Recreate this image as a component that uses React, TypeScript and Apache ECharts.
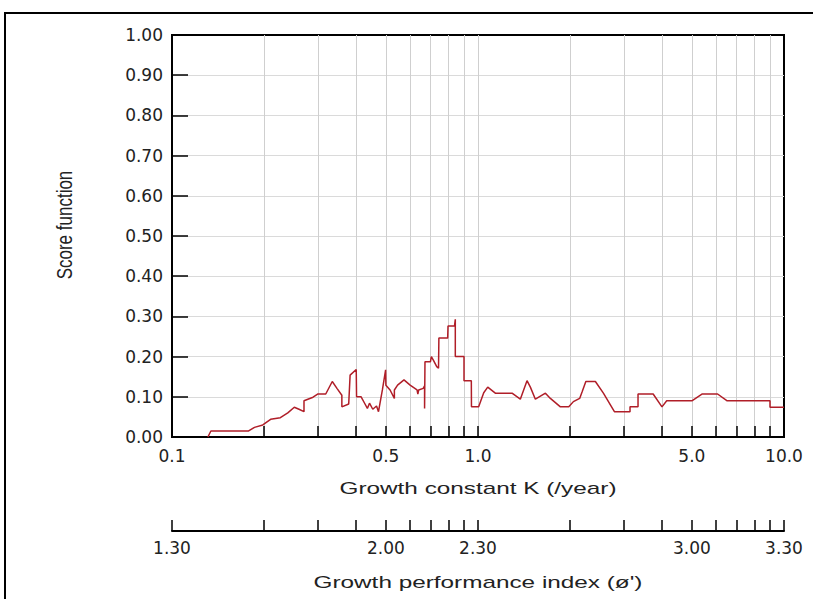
import React, { useEffect, useRef } from "react";
import * as echarts from "echarts";

// Growth constant K (/year) at each vertex of the score curve
const kValues = [
  0.131, 0.134, 0.178, 0.186, 0.198, 0.21, 0.226, 0.239, 0.251, 0.26,
  0.27, 0.27, 0.289, 0.3, 0.318, 0.334, 0.346, 0.359, 0.359, 0.378,
  0.382, 0.4, 0.401, 0.415, 0.426, 0.435, 0.442, 0.453, 0.466, 0.473,
  0.487, 0.499, 0.5, 0.516, 0.533, 0.533, 0.546, 0.573, 0.6, 0.632,
  0.636, 0.64, 0.662, 0.669, 0.669, 0.671, 0.699, 0.704, 0.716, 0.733,
  0.743, 0.745, 0.796, 0.798, 0.838, 0.843, 0.843, 0.9, 0.9, 0.951,
  0.952, 1.005, 1.044, 1.076, 1.139, 1.292, 1.375, 1.446, 1.483, 1.54,
  1.661, 1.724, 1.859, 1.98, 2.05, 2.149, 2.191, 2.251, 2.419, 2.569,
  2.791, 3.139, 3.139, 3.334, 3.334, 3.736, 3.992, 4.137, 5.0, 5.408,
  6.067, 6.52, 9.0, 9.0, 10.0,
];
// Score function values
const scores = [
  0, 0.015, 0.015, 0.024, 0.03, 0.044, 0.048, 0.06, 0.074, 0.069,
  0.063, 0.09, 0.099, 0.107, 0.107, 0.138, 0.121, 0.104, 0.075, 0.082,
  0.154, 0.168, 0.1, 0.1, 0.084, 0.071, 0.084, 0.069, 0.077, 0.063,
  0.117, 0.167, 0.129, 0.117, 0.096, 0.117, 0.129, 0.142, 0.129, 0.117,
  0.107, 0.117, 0.121, 0.127, 0.071, 0.187, 0.187, 0.2, 0.19, 0.175,
  0.171, 0.246, 0.246, 0.276, 0.276, 0.293, 0.2, 0.2, 0.14, 0.14,
  0.075, 0.075, 0.11, 0.124, 0.109, 0.109, 0.094, 0.14, 0.124, 0.094,
  0.109, 0.096, 0.075, 0.075, 0.088, 0.096, 0.113, 0.138, 0.138, 0.109,
  0.063, 0.063, 0.075, 0.075, 0.107, 0.107, 0.075, 0.09, 0.09, 0.107,
  0.107, 0.09, 0.09, 0.074, 0.074,
];

const kGridValues = [0.2, 0.3, 0.4, 0.5, 0.6, 0.7, 0.8, 0.9, 1, 2, 3, 4, 5, 6, 7, 8, 9];
const kAllTicks = [0.1, 0.2, 0.3, 0.4, 0.5, 0.6, 0.7, 0.8, 0.9, 1, 2, 3, 4, 5, 6, 7, 8, 9, 10];
const kLabelValues = [0.1, 0.5, 1, 5, 10];
const kLabels = ["0.1", "0.5", "1.0", "5.0", "10.0"];
const phiLabels = ["1.30", "2.00", "2.30", "3.00", "3.30"];
const scoreTickValues = [0.1, 0.2, 0.3, 0.4, 0.5, 0.6, 0.7, 0.8, 0.9];
const scoreLabelValues = [0, 0.1, 0.2, 0.3, 0.4, 0.5, 0.6, 0.7, 0.8, 0.9, 1];

const lookup = (v: number, names: string[]) => {
  const i = kLabelValues.findIndex((x) => Math.abs(x - v) / x < 1e-6);
  return i >= 0 ? names[i] : "";
};

export default function App() {
  const ref = useRef<HTMLDivElement>(null);
  useEffect(() => {
    if (!ref.current) return;
    const chart = echarts.init(ref.current, undefined, { renderer: "svg" });
    const labelFont = { color: "#222", fontFamily: "DejaVu Sans", fontSize: 17 };
    const tickStyle = { color: "#000", width: 1.5 };
    chart.setOption({
      animation: false,
      backgroundColor: "#fff",
      grid: [
        { left: 172, top: 35, width: 612, height: 402, show: true, borderColor: "#000", borderWidth: 2, backgroundColor: "transparent" },
        { left: 172, top: 520, width: 612, height: 11, show: false },
      ],
      xAxis: [
        {
          type: "log",
          logBase: 10,
          gridIndex: 0,
          min: 0.1,
          max: 10,
          axisLine: { show: true, lineStyle: { color: "#000", width: 2 } },
          axisTick: { show: true, inside: true, length: 11, customValues: kGridValues, lineStyle: tickStyle },
          axisLabel: { ...labelFont, margin: 10, customValues: kLabelValues, formatter: (v: number) => lookup(v, kLabels) },
          splitLine: { show: true, lineStyle: { color: "#cfcfcf", width: 1 } },
        },
        {
          type: "log",
          logBase: 10,
          gridIndex: 1,
          min: 0.1,
          max: 10,
          axisLine: { show: true, lineStyle: { color: "#000", width: 2 } },
          axisTick: { show: true, inside: true, length: 11, customValues: kAllTicks, lineStyle: tickStyle },
          axisLabel: { ...labelFont, margin: 8, customValues: kLabelValues, formatter: (v: number) => lookup(v, phiLabels) },
          splitLine: { show: false },
        },
      ],
      yAxis: [
        {
          type: "value",
          gridIndex: 0,
          min: 0,
          max: 1,
          interval: 0.1,
          axisLine: { show: true, lineStyle: { color: "#000", width: 2 } },
          axisTick: { show: true, inside: true, length: 16, customValues: scoreTickValues, lineStyle: tickStyle },
          axisLabel: { ...labelFont, margin: 9, customValues: scoreLabelValues, formatter: (v: number) => v.toFixed(2) },
          splitLine: { show: true, lineStyle: { color: "#dadada", width: 1 } },
        },
        { type: "value", gridIndex: 1, min: 0, max: 1, show: false },
      ],
      series: [
        {
          type: "line",
          xAxisIndex: 0,
          yAxisIndex: 0,
          data: kValues.map((k, i) => [k, scores[i]]),
          showSymbol: false,
          symbol: "none",
          lineStyle: { color: "#b01e28", width: 1.5 },
          z: 5,
        },
      ],
      graphic: [
        {
          type: "rect",
          silent: true,
          z: -10,
          shape: { x: 5, y: 13, width: 1000, height: 1000 },
          style: { fill: "none", stroke: "#000", lineWidth: 2 },
        },
        {
          type: "text",
          x: 478,
          y: 488,
          scaleX: 1.52,
          style: {
            text: "Growth constant K (/year)",
            fontSize: 16,
            fontFamily: "Liberation Sans",
            fill: "#222",
            align: "center",
            verticalAlign: "middle",
            textAlign: "center",
            textVerticalAlign: "middle",
          },
        },
        {
          type: "text",
          x: 478,
          y: 582,
          scaleX: 1.52,
          style: {
            text: "Growth performance index (ø')",
            fontSize: 16,
            fontFamily: "Liberation Sans",
            fill: "#222",
            align: "center",
            verticalAlign: "middle",
            textAlign: "center",
            textVerticalAlign: "middle",
          },
        },
        {
          type: "text",
          x: 64,
          y: 225,
          rotation: Math.PI / 2,
          scaleY: 1.35,
          style: {
            text: "Score function",
            fontSize: 17,
            fontFamily: "Liberation Sans",
            fill: "#222",
            align: "center",
            verticalAlign: "middle",
            textAlign: "center",
            textVerticalAlign: "middle",
          },
        },
      ],
    });
    return () => chart.dispose();
  }, []);
  return (
    <div
      ref={ref}
      style={{ position: "absolute", left: 0, top: 0, width: 813, height: 599, background: "#fff" }}
    />
  );
}
